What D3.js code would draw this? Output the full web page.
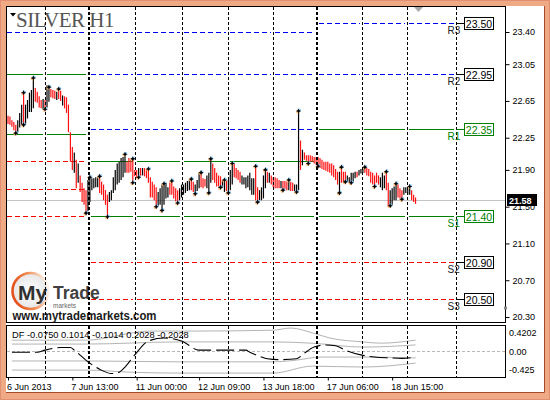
<!DOCTYPE html>
<html><head><meta charset="utf-8">
<script src="https://cdn.jsdelivr.net/npm/d3@7"></script>
<style>html,body{margin:0;padding:0;background:#fff;}svg{display:block;}</style>
</head><body>
<svg id="c" width="550" height="400"></svg>
<script>
// ---------------- DATA ----------------
const symbolTitle = "SILVER H1";
const barHigh = [22.49,22.48,22.44,22.42,22.39,22.44,22.52,22.61,22.74,22.61,
22.66,22.74,22.77,22.90,22.79,22.75,22.70,22.66,22.67,22.66,
22.82,22.80,22.78,22.77,22.76,22.75,22.78,22.76,22.71,22.70,
22.69,22.61,22.31,22.15,22.09,22.01,21.97,21.84,21.76,21.70,
21.68,21.79,21.82,21.81,21.81,21.82,21.82,21.83,21.77,21.74,
21.68,21.63,21.66,21.68,21.82,21.90,21.97,21.99,22.03,22.04,
22.07,21.99,22.03,22.01,22.02,21.90,21.90,21.92,21.92,21.92,
21.92,21.91,21.91,21.82,21.77,21.74,21.71,21.66,21.70,21.74,
21.75,21.76,21.71,21.76,21.78,21.72,21.70,21.68,21.70,21.74,
21.74,21.76,21.78,21.79,21.80,21.77,21.74,21.79,21.87,21.87,
21.81,21.80,21.84,21.87,22.02,21.97,21.92,21.87,21.84,21.83,
21.79,21.79,21.78,21.79,21.90,21.97,21.97,21.92,21.90,21.88,
21.84,21.82,21.82,21.84,21.87,21.81,21.81,21.94,21.71,21.68,
21.71,21.84,21.90,21.88,21.87,21.84,21.82,21.82,21.81,21.79,
21.78,21.78,21.78,21.77,21.79,21.77,21.76,21.74,21.74,22.54,
22.22,22.12,22.09,22.06,22.06,22.06,22.05,22.04,22.04,22.04,
22.03,22.01,21.99,21.99,21.99,21.97,21.97,21.95,21.91,21.88,
21.88,21.93,21.88,21.88,21.84,21.82,21.87,21.87,21.88,21.88,
21.90,21.91,21.92,21.93,21.92,21.91,21.88,21.87,21.84,21.87,
21.84,21.82,21.87,21.84,21.88,21.76,21.68,21.70,21.72,21.75,
21.74,21.70,21.68,21.71,21.71,21.70,21.72,21.68,21.63,21.60];
const barLow = [22.40,22.39,22.37,22.33,22.30,22.31,22.36,22.39,22.39,22.40,
22.46,22.53,22.53,22.57,22.64,22.63,22.58,22.57,22.56,22.56,
22.58,22.64,22.69,22.68,22.67,22.66,22.67,22.65,22.60,22.57,
22.52,22.31,21.99,21.90,21.87,21.70,21.76,21.66,21.55,21.52,
21.43,21.45,21.55,21.68,21.70,21.71,21.71,21.65,21.63,21.57,
21.52,21.39,21.55,21.57,21.65,21.68,21.74,21.76,21.79,21.82,
21.87,21.87,21.87,21.88,21.76,21.83,21.81,21.82,21.83,21.84,
21.83,21.81,21.76,21.60,21.60,21.57,21.50,21.51,21.52,21.46,
21.52,21.59,21.60,21.63,21.63,21.59,21.56,21.54,21.57,21.60,
21.63,21.65,21.67,21.68,21.68,21.66,21.64,21.67,21.70,21.71,
21.70,21.72,21.70,21.65,21.76,21.79,21.76,21.72,21.72,21.71,
21.71,21.66,21.67,21.65,21.68,21.74,21.82,21.81,21.79,21.76,
21.74,21.74,21.70,21.71,21.68,21.63,21.63,21.57,21.55,21.57,
21.57,21.59,21.70,21.76,21.76,21.74,21.71,21.70,21.70,21.70,
21.70,21.68,21.69,21.68,21.68,21.67,21.67,21.67,21.66,21.68,
21.90,21.95,22.01,22.00,21.97,21.99,21.99,21.97,21.96,21.94,
21.92,21.91,21.90,21.89,21.88,21.87,21.84,21.82,21.79,21.74,
21.65,21.76,21.76,21.77,21.77,21.76,21.76,21.77,21.81,21.82,
21.84,21.86,21.87,21.87,21.84,21.83,21.76,21.74,21.72,21.76,
21.74,21.71,21.68,21.70,21.68,21.50,21.51,21.52,21.57,21.57,
21.60,21.59,21.58,21.63,21.65,21.63,21.63,21.57,21.55,21.53];
const barDir = ("ddddduuudu"+"uuuuddddud"+"uuddduddud"+"ddddududdd"+"duuuuuuddd"+
 "dduuuuuuuu"+"uddddddudu"+"ddddddduuu"+"uuuddddduu"+"uuuudduuud"+
 "dduuuddddd"+"uuduuudddd"+"uuuuuuuddu"+"uuududdddd"+"udddudduuu"+
 "dudddddddd"+"dddddddddd"+"uddduuuuud"+"uuuddddddd"+"duuudduuuu"+"ddduuuuddd").split("");
const upFractals = [8,13,21,26,42,47,60,64,72,80,84,94,99,104,111,115,127,132,144,149,171,183,194,199,206];
const downFractals = [4,8,19,40,51,64,67,76,79,87,96,103,109,113,128,141,148,154,159,170,173,176,188,196,202];

const daySeps = [19,41,41.5,65,89,113,136,158,158.5,181.5,204.5,229.5];
const weekBounds = [[-0.5,41],[41.5,158],[158.5,229.5]];
const weekA_levels = [23.40,22.95,22.30,22.00,21.70,21.40];
const weekA_kinds  = ["R","M","M","S","S","S"];
const weekB_levels = [23.40,22.95,22.35,22.00,21.40,20.90,20.50];
const weekB_kinds  = ["R","R","R","M","M","S","S"];
const weekC_levels = [23.50,22.95,22.35,21.40,20.90,20.50];
const weekC_kinds  = ["R","R","M","M","S","S"];
const weekC_names  = ["R3","R2","R1","S1","S2","S3"];

const priceTicks = [23.40,23.05,22.65,22.25,21.90,21.50,21.10,20.70,20.30];
const lastPrice = 21.58;
const timeTickIdx = [0,33,66,98,131,164,197];
const timeTickLabels = ["6 Jun 2013","7 Jun 13:00","11 Jun 00:00","12 Jun 09:00","13 Jun 18:00","17 Jun 06:00","18 Jun 15:00"];

const dfLabel = "DF -0.0750 0.1014 -0.1014 0.2028 -0.2028";
const dfTickVals = [0.4202,0,-0.425];
const dfTickLabels = ["0.4202","0.00","-0.425"];
const dfIdx = [2,15,19,27,32,34,41,47,53,56,60,65,72,80,89,98,104,122,124,129,133,139,148,152,157,163,168,173,181,188,196,202,209];
const dfVal = [-0.03,-0.03,0.02,0.08,0.08,0.02,-0.25,-0.42,-0.52,-0.51,-0.37,-0.09,0.23,0.30,0.23,0.02,0.02,0.02,-0.03,-0.12,-0.18,-0.20,-0.18,-0.05,0.09,0.14,0.12,0.02,-0.09,-0.14,-0.16,-0.17,-0.14];
const band1Idx = [2,40,73,96,136,145,156,165,182,191,209];
const band1Val = [0.25,0.25,0.46,0.46,0.48,0.53,0.42,0.30,0.21,0.18,0.25];
const band2Idx = [2,40,88,136,156,182,209];
const band2Val = [0.16,0.16,0.21,0.21,0.18,0.09,0.14];
const band3Idx = [2,40,88,136,148,160,182,209];
const band3Val = [-0.23,-0.23,-0.25,-0.25,-0.21,-0.14,-0.14,-0.16];
const band4Idx = [2,40,63,88,136,156,182,209];
const band4Val = [-0.44,-0.44,-0.49,-0.51,-0.51,-0.35,-0.37,-0.28];

// ---------------- LAYOUT ----------------
const svg = d3.select("#c");
const P = {l:6.5, r:505.5, t:6.5, b:322.5, it:325.5, ib:377.5};
const FONT = "Liberation Sans, Arial, sans-serif";

const x = d3.scaleLinear().domain([0,209]).range([8, 8+1.95*209]);
const y = d3.scaleLinear().domain([20.30,23.40]).range([317,32]);
const yi = d3.scaleLinear().domain([-0.6,0.6]).range([377,325]);
const row = v => Math.ceil(y(v)) + 0.5;

// frame
svg.append("rect").attr("width",550).attr("height",400).attr("fill","#efa985");
svg.append("rect").attr("x",0.5).attr("y",0.5).attr("width",549).attr("height",399).attr("fill","none").attr("stroke","#e09070");
svg.append("rect").attr("x",6).attr("y",6).attr("width",538).attr("height",386).attr("fill","#fff");
svg.append("path").attr("d","M544.5,6V392.5H6").attr("fill","none").attr("stroke","#a84a2a");

const defs = svg.append("defs");
defs.append("clipPath").attr("id","mainClip").append("rect").attr("x",7).attr("y",7).attr("width",498).attr("height",315);
defs.append("clipPath").attr("id","indClip").append("rect").attr("x",7).attr("y",326).attr("width",498).attr("height",51);

// ---- logo (background) ----
const lg = svg.append("g");
const grad = defs.append("linearGradient").attr("id","ring").attr("x1","0").attr("x2","1").attr("y1","0.3").attr("y2","0.1");
grad.append("stop").attr("offset","0").attr("stop-color","#e4511c");
grad.append("stop").attr("offset","0.45").attr("stop-color","#f08a50");
grad.append("stop").attr("offset","0.85").attr("stop-color","#fbe3d5");
grad.append("stop").attr("offset","1").attr("stop-color","#ffffff");
const rg = defs.append("radialGradient").attr("id","disc");
rg.append("stop").attr("offset","0").attr("stop-color","#ffffff");
rg.append("stop").attr("offset","1").attr("stop-color","#e6e6e6");
lg.append("circle").attr("cx",30.5).attr("cy",291).attr("r",18).attr("fill","url(#disc)").attr("stroke","url(#ring)").attr("stroke-width",2.6);
lg.append("text").attr("x",18).attr("y",300).attr("font-family",FONT).attr("font-weight","bold").attr("font-size",21).attr("fill","#303030").text("My");
lg.append("text").attr("x",53).attr("y",299).attr("font-family",FONT).attr("font-weight","bold").attr("font-size",17.5).attr("fill","#404040").text("Trade");
lg.append("text").attr("x",53).attr("y",307.5).attr("font-family",FONT).attr("font-size",6.5).attr("fill","#666").text("markets");
lg.append("text").attr("x",12.5).attr("y",319.5).attr("font-family",FONT).attr("font-weight","bold").attr("font-size",12)
  .attr("fill","#1a1a1a").attr("textLength",144).attr("lengthAdjust","spacingAndGlyphs").text("www.mytrademarkets.com");

const main = svg.append("g").attr("clip-path","url(#mainClip)");
const ind = svg.append("g").attr("clip-path","url(#indClip)");

// ---- title ----
svg.append("text").attr("x",16).attr("y",27).attr("font-family","Liberation Serif, Times New Roman, serif")
  .attr("font-size",21).attr("letter-spacing",-0.5).attr("fill","#555").text(symbolTitle);
svg.append("path").attr("d","M10,13L16,13L13,16.5Z").attr("fill","#000");

// ---- current price line ----
main.append("line").attr("x1",7).attr("x2",505).attr("y1",row(lastPrice)).attr("y2",row(lastPrice))
  .attr("stroke","#c4c4c4").attr("shape-rendering","crispEdges");

// ---- pivot level segments ----
const kindStyle = {R:{c:"#0000ff",d:"5,3"}, M:{c:"#008000",d:null}, S:{c:"#ff0000",d:"5,3"}};
const weeks = [[weekA_levels,weekA_kinds],[weekB_levels,weekB_kinds],[weekC_levels,weekC_kinds]];
const levelG = main.append("g").attr("shape-rendering","crispEdges");
weeks.forEach(([lv,kd],w)=>{
  const [a,b] = weekBounds[w];
  const cuts = [a, ...daySeps.filter(s=>s>a && s<b), b];
  lv.forEach((v,k)=>{
    const st = kindStyle[kd[k]];
    const yy = row(v);
    for(let j=0;j<cuts.length-1;j++){
      const x1 = Math.round(x(cuts[j]) + (cuts[j]<0?0:2)), x2 = Math.round(x(cuts[j+1]) - 2);
      const ln = levelG.append("line").attr("x1",x1).attr("x2",x2).attr("y1",yy).attr("y2",yy)
        .style("stroke",st.c).attr("stroke-width",1);
      if(st.d) ln.attr("stroke-dasharray",st.d);
    }
  });
});

// ---- day separators ----
const sepG = svg.append("g").attr("shape-rendering","crispEdges");
daySeps.forEach(s=>{
  const xx = Math.round(x(s))+0.5;
  [[7,322],[326,377]].forEach(([y1,y2])=>{
    sepG.append("line").attr("x1",xx).attr("x2",xx).attr("y1",y1).attr("y2",y2)
      .attr("stroke","#000").attr("stroke-dasharray","3,2");
  });
});

// ---- bars ----
main.append("g").selectAll("line").data(barHigh).join("line")
  .attr("x1",(d,i)=>x(i)).attr("x2",(d,i)=>x(i))
  .attr("y1",d=>y(d)).attr("y2",(d,i)=>y(barLow[i]))
  .attr("stroke",(d,i)=>barDir[i]==="u"?"#000":"#ff1010").attr("stroke-width",1.2);

// ---- fractal markers ----
function marker(g,cx,cy){
  const m = g.append("g").attr("transform",`translate(${cx},${cy})`);
  m.append("circle").attr("cx",-0.6).attr("cy",0.6).attr("r",1.9).attr("fill","#ffb060").attr("opacity",0.8);
  m.append("circle").attr("cx",0.6).attr("cy",-0.6).attr("r",1.9).attr("fill","#7cc8ff").attr("opacity",0.7);
  m.append("path").attr("d","M0,-2.6L0.8,-0.8L2.6,0L0.8,0.8L0,2.6L-0.8,0.8L-2.6,0L-0.8,-0.8Z").attr("fill","#000");
}
const fg = main.append("g");
upFractals.forEach(i=>marker(fg,x(i),y(barHigh[i])));
downFractals.forEach(i=>marker(fg,x(i),y(barLow[i])));

// ---- right labels for current pivot levels ----
const xEnd = Math.round(x(weekBounds[2][1]))+0.5;
weekC_levels.forEach((v,k)=>{
  const yy = row(v);
  const col = weekC_kinds[k]==="M" ? "#008000" : "#000";
  const tcol = weekC_kinds[k]==="M" ? "#008000" : "#222";
  svg.append("text").attr("x",xEnd-9).attr("y",yy+10).attr("font-family",FONT).attr("font-size",10).attr("fill",tcol).text(weekC_names[k]);
  svg.append("line").attr("x1",xEnd).attr("x2",xEnd+9).attr("y1",yy).attr("y2",yy).attr("stroke",col);
  svg.append("rect").attr("x",464.5).attr("y",yy-6).attr("width",29).attr("height",12).attr("fill","#fff").attr("stroke",col);
  svg.append("text").attr("x",479).attr("y",yy+4).attr("text-anchor","middle").attr("font-family",FONT).attr("font-size",10.5).attr("fill",col).text(v.toFixed(2));
});

// ---- indicator ----
ind.append("line").attr("x1",7).attr("x2",505).attr("y1",Math.round(yi(0))+0.5).attr("y2",Math.round(yi(0))+0.5)
  .attr("stroke","#b8b8b8").attr("stroke-dasharray","3,2");
const lineGen = d3.line().x(d=>x(d[0])).y(d=>yi(d[1])).curve(d3.curveMonotoneX);
[[band1Idx,band1Val],[band2Idx,band2Val],[band3Idx,band3Val],[band4Idx,band4Val]].forEach(([ix,vv])=>{
  ind.append("path").attr("d",lineGen(ix.map((d,j)=>[d,vv[j]]))).attr("fill","none").attr("stroke","#b4b4b4").attr("stroke-width",1);
});
ind.append("path").attr("d",lineGen(dfIdx.map((d,j)=>[d,dfVal[j]]))).attr("fill","none").attr("stroke","#000")
  .attr("stroke-width",1.1).attr("stroke-dasharray","18,5");
svg.append("text").attr("x",12).attr("y",338).attr("font-family",FONT).attr("font-size",9.3).attr("fill","#000").text(dfLabel);
dfTickVals.forEach((v,k)=>{
  svg.append("text").attr("x",509).attr("y",yi(v)+3.5).attr("font-family",FONT).attr("font-size",9).attr("fill","#000").text(dfTickLabels[k]);
});

// ---- panel borders ----
svg.append("rect").attr("x",P.l).attr("y",P.t).attr("width",P.r-P.l).attr("height",P.b-P.t).attr("fill","none").attr("stroke","#000");
svg.append("rect").attr("x",P.l).attr("y",P.it).attr("width",P.r-P.l).attr("height",P.ib-P.it).attr("fill","none").attr("stroke","#000");

// ---- price axis ----
const gY = svg.append("g").attr("transform",`translate(${P.r},0)`)
  .call(d3.axisRight(y).tickValues(priceTicks).tickSize(4).tickPadding(3).tickFormat(d3.format(".2f")));
gY.select(".domain").remove();
gY.selectAll("line").attr("stroke","#000");
gY.selectAll("text").attr("font-family",FONT).attr("font-size",9).attr("fill","#000");

// current price tag
const ly = row(lastPrice);
svg.append("rect").attr("x",507).attr("y",ly-6.5).attr("width",30).attr("height",12).attr("fill","#000");
svg.append("text").attr("x",509).attr("y",ly+3).attr("font-family",FONT).attr("font-size",9).attr("font-weight","bold").attr("fill","#fff").text(lastPrice.toFixed(2));

// ---- time axis ----
const gX = svg.append("g").attr("transform",`translate(0,${P.ib})`)
  .call(d3.axisBottom(x).tickValues(timeTickIdx).tickSize(3).tickPadding(3).tickFormat((d,i)=>timeTickLabels[i]));
gX.select(".domain").remove();
gX.selectAll("line").attr("stroke","#000");
gX.selectAll("text").attr("font-family",FONT).attr("font-size",9).attr("fill","#000").attr("text-anchor","start").attr("dx",-1.5);

// small chart markers
svg.append("path").attr("d","M414,7L423,7L418.5,12Z").attr("fill","#a8a8a8");
svg.append("rect").attr("x",504).attr("y",306.5).attr("width",3).attr("height",3).attr("fill","#888");
</script>
</body></html>
